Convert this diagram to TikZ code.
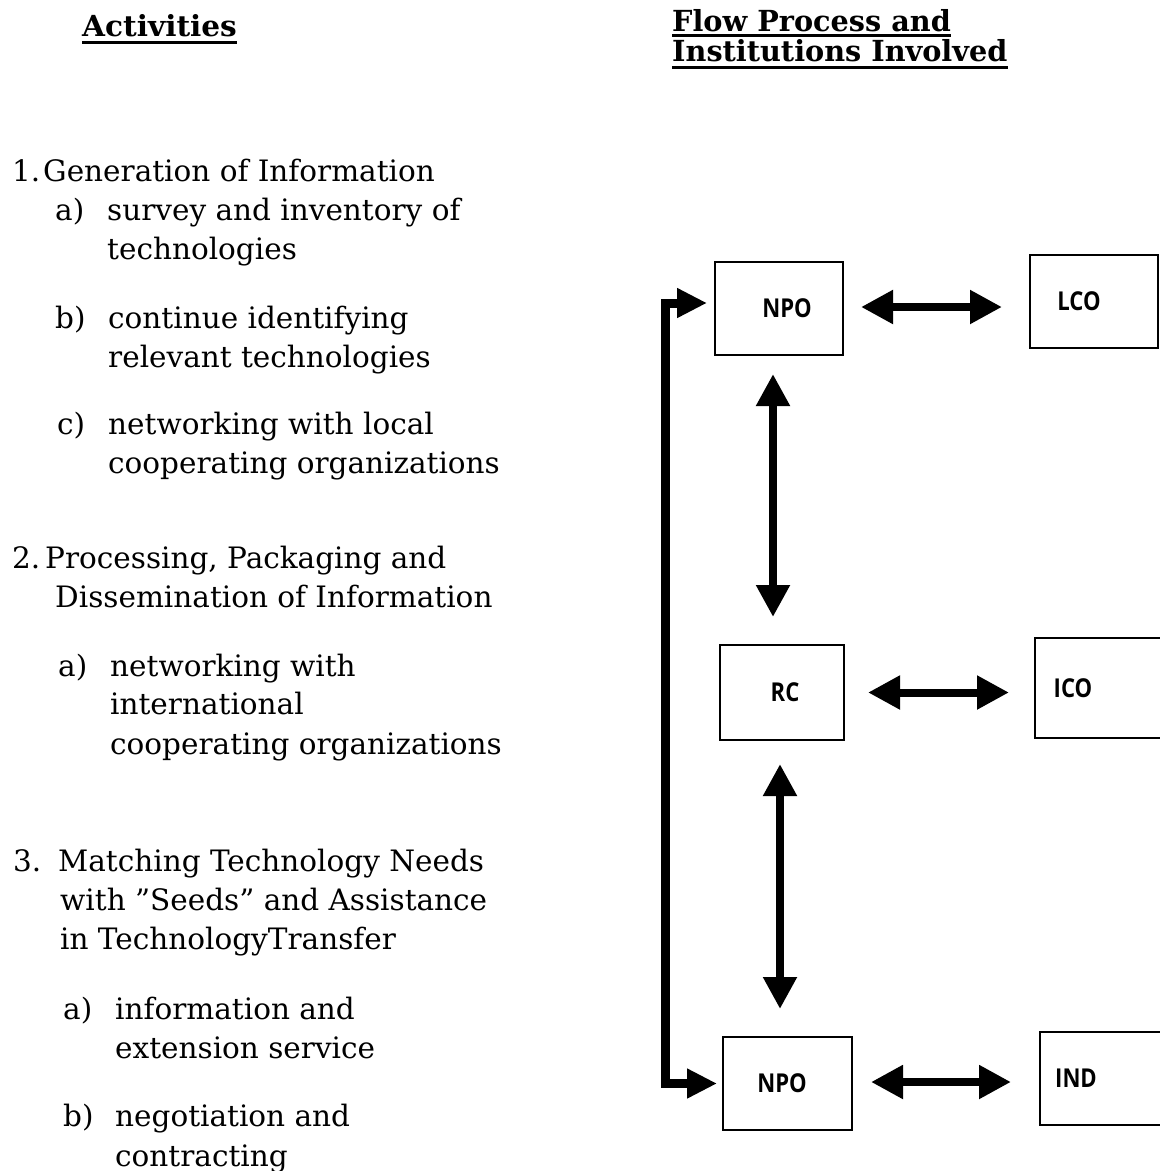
\documentclass[tikz,border=0pt]{standalone}
\usepackage{fontspec}
\usepackage{graphicx}
\setmainfont{DejaVu Serif}
\newfontfamily\boxfont{Open Sans}
\usetikzlibrary{arrows.meta}
\newcommand\boxlabel[1]{\scalebox{0.85}[1]{#1}}
\tikzset{
  txt/.style={anchor=base west, inner sep=0pt, font=\fontsize{29.5}{39}\selectfont},
  headtxt/.style={anchor=base west, inner sep=0pt, font=\fontsize{29}{34}\selectfont\bfseries},
  ul/.style={line width=3pt},
  box/.style={draw, line width=2pt, inner sep=0pt, align=center, font=\boxfont\bfseries\fontsize{26}{30}\selectfont},
  dbl/.style={line width=8pt, {Triangle[length=32pt,width=32pt]}-{Triangle[length=32pt,width=32pt]}},
  loopline/.style={line width=9pt, line join=miter, {Triangle[length=30pt,width=28pt]}-{Triangle[length=30pt,width=28pt]}},
}
\begin{document}
\begin{tikzpicture}[x=1pt,y=-1pt]
\useasboundingbox (0,0) rectangle (1160,1171);
\clip (0,0) rectangle (1160,1171);

% headers
\node[headtxt] (act) at (82,36) {\scalebox{1.02}[1]{Activities}};
\draw[ul] ([yshift=-6pt]act.base west) -- ([yshift=-6pt]act.base east);
\node[headtxt] (flow1) at (672,31) {\scalebox{0.99}[1]{Flow Process and}};
\draw[ul] ([yshift=-4pt]flow1.base west) -- ([yshift=-4pt]flow1.base east);
\node[headtxt] (flow2) at (672,61) {\scalebox{0.99}[1]{Institutions Involved}};
\draw[ul] ([yshift=-6pt]flow2.base west) -- ([yshift=-6pt]flow2.base east);

% activities list
\node[txt] (n1) at (12,181) {1.};
\node[txt] (t1) at (43,181) {Generation of Information};
\node[txt] (a1) at (55,220) {a)};
\node[txt] (a1t1) at (107,220) {survey and inventory of};
\node[txt] (a1t2) at (107,259) {technologies};
\node[txt] (b1) at (55,328) {b)};
\node[txt] (b1t1) at (108,328) {continue identifying};
\node[txt] (b1t2) at (108,367) {relevant technologies};
\node[txt] (c1) at (57,434) {c)};
\node[txt] (c1t1) at (108,434) {networking with local};
\node[txt] (c1t2) at (108,473) {cooperating organizations};

\node[txt] (n2) at (12,568) {2.};
\node[txt] (t2a) at (45,568) {Processing, Packaging and};
\node[txt] (t2b) at (55,607) {Dissemination of Information};
\node[txt] (a2) at (58,676) {a)};
\node[txt] (a2t1) at (110,676) {networking with};
\node[txt] (a2t2) at (110,714) {international};
\node[txt] (a2t3) at (110,754) {cooperating organizations};

\node[txt] (n3) at (13,871) {3.};
\node[txt] (t3a) at (58,871) {Matching Technology Needs};
\node[txt] (t3b) at (60,910) {with "Seeds" and Assistance};
\node[txt] (t3c) at (60,949) {in TechnologyTransfer};
\node[txt] (a3) at (63,1019) {a)};
\node[txt] (a3t1) at (115,1019) {information and};
\node[txt] (a3t2) at (115,1058) {extension service};
\node[txt] (b3) at (63,1126) {b)};
\node[txt] (b3t1) at (115,1126) {negotiation and};
\node[txt] (b3t2) at (115,1166) {contracting};

% boxes
\node[box, text width=128pt, minimum height=93pt] (npo1) at (779,308.5) {\noindent\hspace*{16pt}\boxlabel{NPO}};
\node[box, text width=128pt, minimum height=93pt] (lco) at (1094,301.5) {\noindent\hspace*{-30pt}\boxlabel{LCO}};
\node[box, text width=124pt, minimum height=95pt] (rc) at (782,692.5) {\noindent\hspace*{6pt}\boxlabel{RC}};
\node[box, text width=135pt, minimum height=100pt] (ico) at (1102.5,688) {\noindent\hspace*{-59pt}\boxlabel{ICO}};
\node[box, text width=129pt, minimum height=93pt] (npo3) at (787.5,1083.5) {\noindent\hspace*{-11pt}\boxlabel{NPO}};
\node[box, text width=130pt, minimum height=93pt] (ind) at (1105,1078.5) {\noindent\hspace*{-58pt}\boxlabel{IND}};

% horizontal double arrows
\draw[dbl, shorten <=17pt, shorten >=27pt] ([yshift=1.5pt]npo1.east) -- ([yshift=1.5pt]npo1.east -| lco.west);
\draw[dbl, shorten <=23pt, shorten >=25pt] (rc.east) -- (rc.east -| ico.west);
\draw[dbl, shorten <=18pt, shorten >=28pt] ([yshift=1.5pt]npo3.east) -- ([yshift=1.5pt]npo3.east -| ind.west);

% vertical double arrows
\draw[dbl, shorten <=18pt, shorten >=27pt] ([xshift=-6pt]npo1.south) -- ([xshift=-6pt]npo1.south |- rc.north);
\draw[dbl, shorten <=23pt, shorten >=27pt] ([xshift=-2pt]rc.south) -- ([xshift=-2pt]rc.south |- npo3.north);

% loop connector
\draw[loopline, shorten <=7pt, shorten >=5pt] ([yshift=5.5pt]npo1.west) -- ++(-49,0) |- (npo3.west);
\end{tikzpicture}
\end{document}
